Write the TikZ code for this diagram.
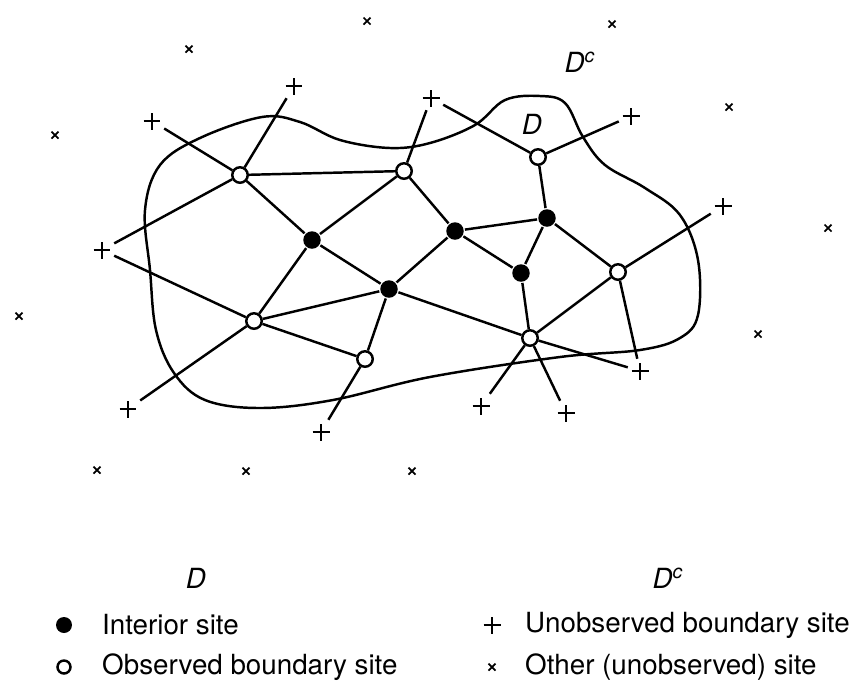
\documentclass[tikz,border=0pt]{standalone}
\usepackage{fontspec}
\setmainfont{TeX Gyre Heros}

\tikzset{
  interior/.style={circle, fill=black, inner sep=0pt, minimum size=0.35cm},
  observed/.style={circle, draw, fill=white, inner sep=0pt, minimum size=0.31cm},
  unobserved/.style={rectangle, inner sep=0pt, minimum size=0.44cm,
    path picture={
      \draw[line width=1.3pt]
        ([xshift=-0.17cm]path picture bounding box.center) -- ([xshift=0.17cm]path picture bounding box.center)
        ([yshift=-0.17cm]path picture bounding box.center) -- ([yshift=0.17cm]path picture bounding box.center);
    }},
  other/.style={rectangle, inner sep=0pt, minimum size=0.2cm,
    path picture={
      \draw[line width=1pt]
        ([shift={(-0.07cm,-0.07cm)}]path picture bounding box.center) -- ([shift={(0.07cm,0.07cm)}]path picture bounding box.center)
        ([shift={(-0.07cm,0.07cm)}]path picture bounding box.center) -- ([shift={(0.07cm,-0.07cm)}]path picture bounding box.center);
    }},
  lbl/.style={font=\fontsize{15.8}{18}\selectfont, inner sep=0pt}
}

\begin{document}
\begin{tikzpicture}[x=0.02cm, y=-0.02cm, line width=1.4pt]

  \useasboundingbox (0,0) rectangle (853,681);

  % Region D
  \draw plot[smooth cycle, tension=0.6] coordinates {
    (145,210) (160,165) (200,138) (262,117) (300,122) (340,140) (390,148)
    (430,143) (475,125) (505,100) (540,96) (565,103) (583,137) (605,165)
    (645,188) (680,215) (698,260) (698,315) (680,338) (640,350) (560,357)
    (430,377) (333,400) (260,408) (205,400) (174,373) (156,330) (150,270)};

  \node[lbl] (dlbl)  at (532,124) {\textit{D}};
  \node[lbl] (dclbl) at (580,62)  {\textit{D}\textsuperscript{\textit{c}}};

  % Interior sites
  \node[interior] (in1) at (312,240) {};
  \node[interior] (in2) at (455,231) {};
  \node[interior] (in3) at (547,218) {};
  \node[interior] (in4) at (521,273) {};
  \node[interior] (in5) at (389,289) {};

  % Observed boundary sites
  \node[observed] (ob1) at (240,175) {};
  \node[observed] (ob2) at (404,171) {};
  \node[observed] (ob3) at (538,157) {};
  \node[observed] (ob4) at (618,272) {};
  \node[observed] (ob5) at (254,321) {};
  \node[observed] (ob6) at (365,359) {};
  \node[observed] (ob7) at (530,338) {};

  % Unobserved boundary sites
  \node[unobserved] (ub1)  at (294,86)  {};
  \node[unobserved] (ub2)  at (152,121) {};
  \node[unobserved] (ub3)  at (431,98)  {};
  \node[unobserved] (ub4)  at (631,116) {};
  \node[unobserved] (ub5)  at (723,206) {};
  \node[unobserved] (ub6)  at (102,250) {};
  \node[unobserved] (ub7)  at (128,409) {};
  \node[unobserved] (ub8)  at (321,432) {};
  \node[unobserved] (ub9)  at (481,406) {};
  \node[unobserved] (ub10) at (566,413) {};
  \node[unobserved] (ub11) at (640,371) {};

  % Other sites
  \foreach \pos [count=\i] in {(367,21), (189,49), (612,24), (55,135), (729,107),
      (828,228), (19,316), (758,334), (97,470), (246,471), (412,471)} {
    \node[other] (ot\i) at \pos {};
  }

  % Neighbour links
  \draw (ub2) -- (ob1);
  \draw (ub1) -- (ob1);
  \draw (ub6) -- (ob1);
  \draw (ob1) -- (ob2);
  \draw (ob1) -- (in1);
  \draw (ob2) -- (in1);
  \draw (ub3) -- (ob2);
  \draw (ob2) -- (in2);
  \draw (ub3) -- (ob3);
  \draw (ob3) -- (ub4);
  \draw (ob3) -- (in3);
  \draw (in2) -- (in3);
  \draw (in2) -- (in5);
  \draw (in2) -- (in4);
  \draw (in3) -- (in4);
  \draw (in3) -- (ob4);
  \draw (ob4) -- (ub5);
  \draw (ob4) -- (ob7);
  \draw (ob4) -- (ub11);
  \draw (in4) -- (ob7);
  \draw (ob7) -- (ub9);
  \draw (ob7) -- (ub10);
  \draw (ob7) -- (ub11);
  \draw (in5) -- (ob7);
  \draw (in1) -- (in5);
  \draw (in5) -- (ob5);
  \draw (in5) -- (ob6);
  \draw (in1) -- (ob5);
  \draw (ob5) -- (ob6);
  \draw (ob5) -- (ub7);
  \draw (ob6) -- (ub8);
  \draw (ub6) -- (ob5);

  % Legend
  \node[lbl] (keyd)  at (196,578) {\textit{D}};
  \node[lbl] (keydc) at (668,578) {\textit{D}\textsuperscript{\textit{c}}};
  \node[interior, minimum size=0.32cm]  (keyin) at (64,625) {};
  \node[lbl, anchor=west] at (101,625) {Interior site};
  \node[observed, minimum size=0.26cm]  (keyob) at (64,667) {};
  \node[lbl, anchor=west] at (101,667) {Observed boundary site};
  \node[unobserved] (keyub) at (492,625) {};
  \node[lbl, anchor=west] at (524,625) {Unobserved boundary site};
  \node[other] (keyot) at (492,667) {};
  \node[lbl, anchor=west] at (524,667) {Other (unobserved) site};

\end{tikzpicture}
\end{document}
